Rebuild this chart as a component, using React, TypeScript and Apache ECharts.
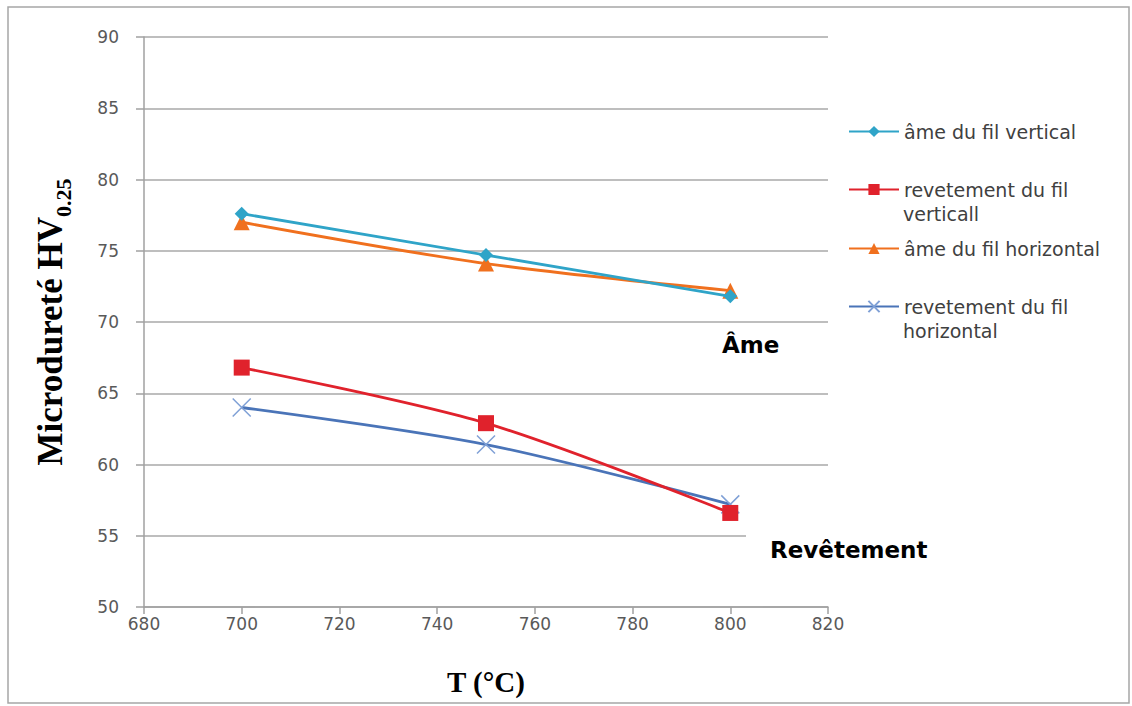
import React, { useEffect, useRef } from "react";
import * as echarts from "echarts";

const temperatures = [700, 750, 800];
const ameVertical = [77.6, 74.7, 71.8];
const revVertical = [66.8, 62.9, 56.6];
const ameHorizontal = [77.0, 74.1, 72.2];
const revHorizontal = [64.0, 61.4, 57.2];

const seriesNames = [
  "âme du fil vertical",
  "revetement du fil verticall",
  "âme du fil horizontal",
  "revetement du fil horizontal",
];
const legendFirstLines = [
  "âme du fil vertical",
  "revetement du fil",
  "âme du fil horizontal",
  "revetement du fil",
];
const legendSecondLines = ["", "verticall", "", "horizontal"];
const colors = ["#2fa4c8", "#e0222c", "#f0701e", "#4a74b8"];
const xTitle = "T (°C)";
const yTitleMain = "Microdureté HV";
const yTitleSub = "0.25";
const annotAme = "Âme";
const annotRev = "Revêtement";

const X_SYMBOL = "path://M0,0L10,10M10,0L0,10";

export default function App() {
  const ref = useRef<HTMLDivElement>(null);
  useEffect(() => {
    if (!ref.current) return;
    const chart = echarts.init(ref.current, null, { renderer: "svg" });
    const pairs = (vals: number[]) => temperatures.map((t, i) => [t, vals[i]]);
    const dataSets = [ameVertical, revVertical, ameHorizontal, revHorizontal];
    const symbols = ["diamond", "rect", "triangle", X_SYMBOL];
    const sizes = [14, 16, 16, 18];
    const legendTops = [131, 189, 248, 306];
    const legendFont = { fontFamily: "DejaVu Sans", fontSize: 19, color: "#404040" };

    chart.setOption({
      animation: false,
      backgroundColor: "#ffffff",
      grid: { left: 144, right: 304, top: 37, bottom: 99, containLabel: false },
      xAxis: {
        type: "value",
        min: 680,
        max: 820,
        interval: 20,
        name: xTitle,
        nameLocation: "middle",
        nameGap: 60,
        nameTextStyle: {
          fontFamily: "Liberation Serif",
          fontWeight: "bold",
          fontSize: 29,
          color: "#000",
        },
        axisLine: { show: true, lineStyle: { color: "#a0a0a0", width: 1.5 } },
        axisTick: { show: true, length: 7, lineStyle: { color: "#a0a0a0", width: 1.5 } },
        axisLabel: { margin: 8, fontFamily: "DejaVu Sans", fontSize: 17, color: "#595959" },
        splitLine: { show: false },
      },
      yAxis: {
        type: "value",
        min: 50,
        max: 90,
        interval: 5,
        name: `{a|${yTitleMain}}{b|${yTitleSub}}`,
        nameLocation: "middle",
        nameRotate: 90,
        nameGap: 70,
        nameTextStyle: {
          rich: {
            a: {
              fontFamily: "Liberation Serif",
              fontWeight: "bold",
              fontSize: 35,
              color: "#000",
              padding: [0, 0, 6, 0],
            },
            b: {
              fontFamily: "Liberation Serif",
              fontWeight: "bold",
              fontSize: 22,
              color: "#000",
              verticalAlign: "bottom",
            },
          },
        },
        axisLine: { show: true, lineStyle: { color: "#a0a0a0", width: 1.5 } },
        axisTick: { show: true, length: 8, lineStyle: { color: "#a0a0a0", width: 1.5 } },
        axisLabel: { margin: 25, fontFamily: "DejaVu Sans", fontSize: 17, color: "#595959" },
        splitLine: { show: true, lineStyle: { color: "#a8a8a8", width: 1.5 } },
      },
      legend: seriesNames.map((name, i) => ({
        data: [name],
        left: 848,
        top: legendTops[i] - 9,
        padding: 0,
        orient: "vertical",
        itemWidth: 50,
        itemHeight: 14,
        itemGap: 6,
        formatter: () => legendFirstLines[i],
        textStyle: legendFont,
        selectedMode: false,
      })),
      series: seriesNames.map((name, i) => ({
        name,
        type: "line",
        data: pairs(dataSets[i]),
        smooth: 0.3,
        symbol: symbols[i],
        symbolSize: sizes[i],
        showSymbol: true,
        lineStyle: { color: colors[i], width: 2.8 },
        itemStyle:
          i === 3
            ? { color: "#7fa0d6", borderColor: "#7fa0d6", borderWidth: 1.5 }
            : { color: colors[i], borderColor: colors[i], borderWidth: 0 },
        z: 10 - i,
      })),
      graphic: [
        {
          type: "rect",
          shape: { x: 8, y: 7, width: 1121, height: 696 },
          style: { fill: "none", stroke: "#a6a6a6", lineWidth: 1.5 },
          silent: true,
        },
        ...legendSecondLines
          .map((t, i) => ({ t, i }))
          .filter((o) => o.t)
          .map((o) => ({
            type: "text",
            left: 903,
            top: legendTops[o.i] + 15,
            style: { text: o.t, fill: "#404040", font: "19px 'DejaVu Sans'" },
          })),
        {
          type: "text",
          left: 722,
          top: 333,
          z: 100,
          style: { text: annotAme, fill: "#000", font: "bold 23px 'DejaVu Sans'" },
        },
        {
          type: "text",
          left: 746,
          top: 533,
          z: 100,
          style: {
            text: annotRev,
            fill: "#000",
            font: "bold 23px 'DejaVu Sans'",
            backgroundColor: "#fff",
            padding: [5, 0, 2, 24],
          },
        },
      ],
    });
    return () => chart.dispose();
  }, []);
  return (
    <div
      ref={ref}
      style={{ position: "fixed", left: 0, top: 0, width: 1132, height: 706 }}
    />
  );
}
